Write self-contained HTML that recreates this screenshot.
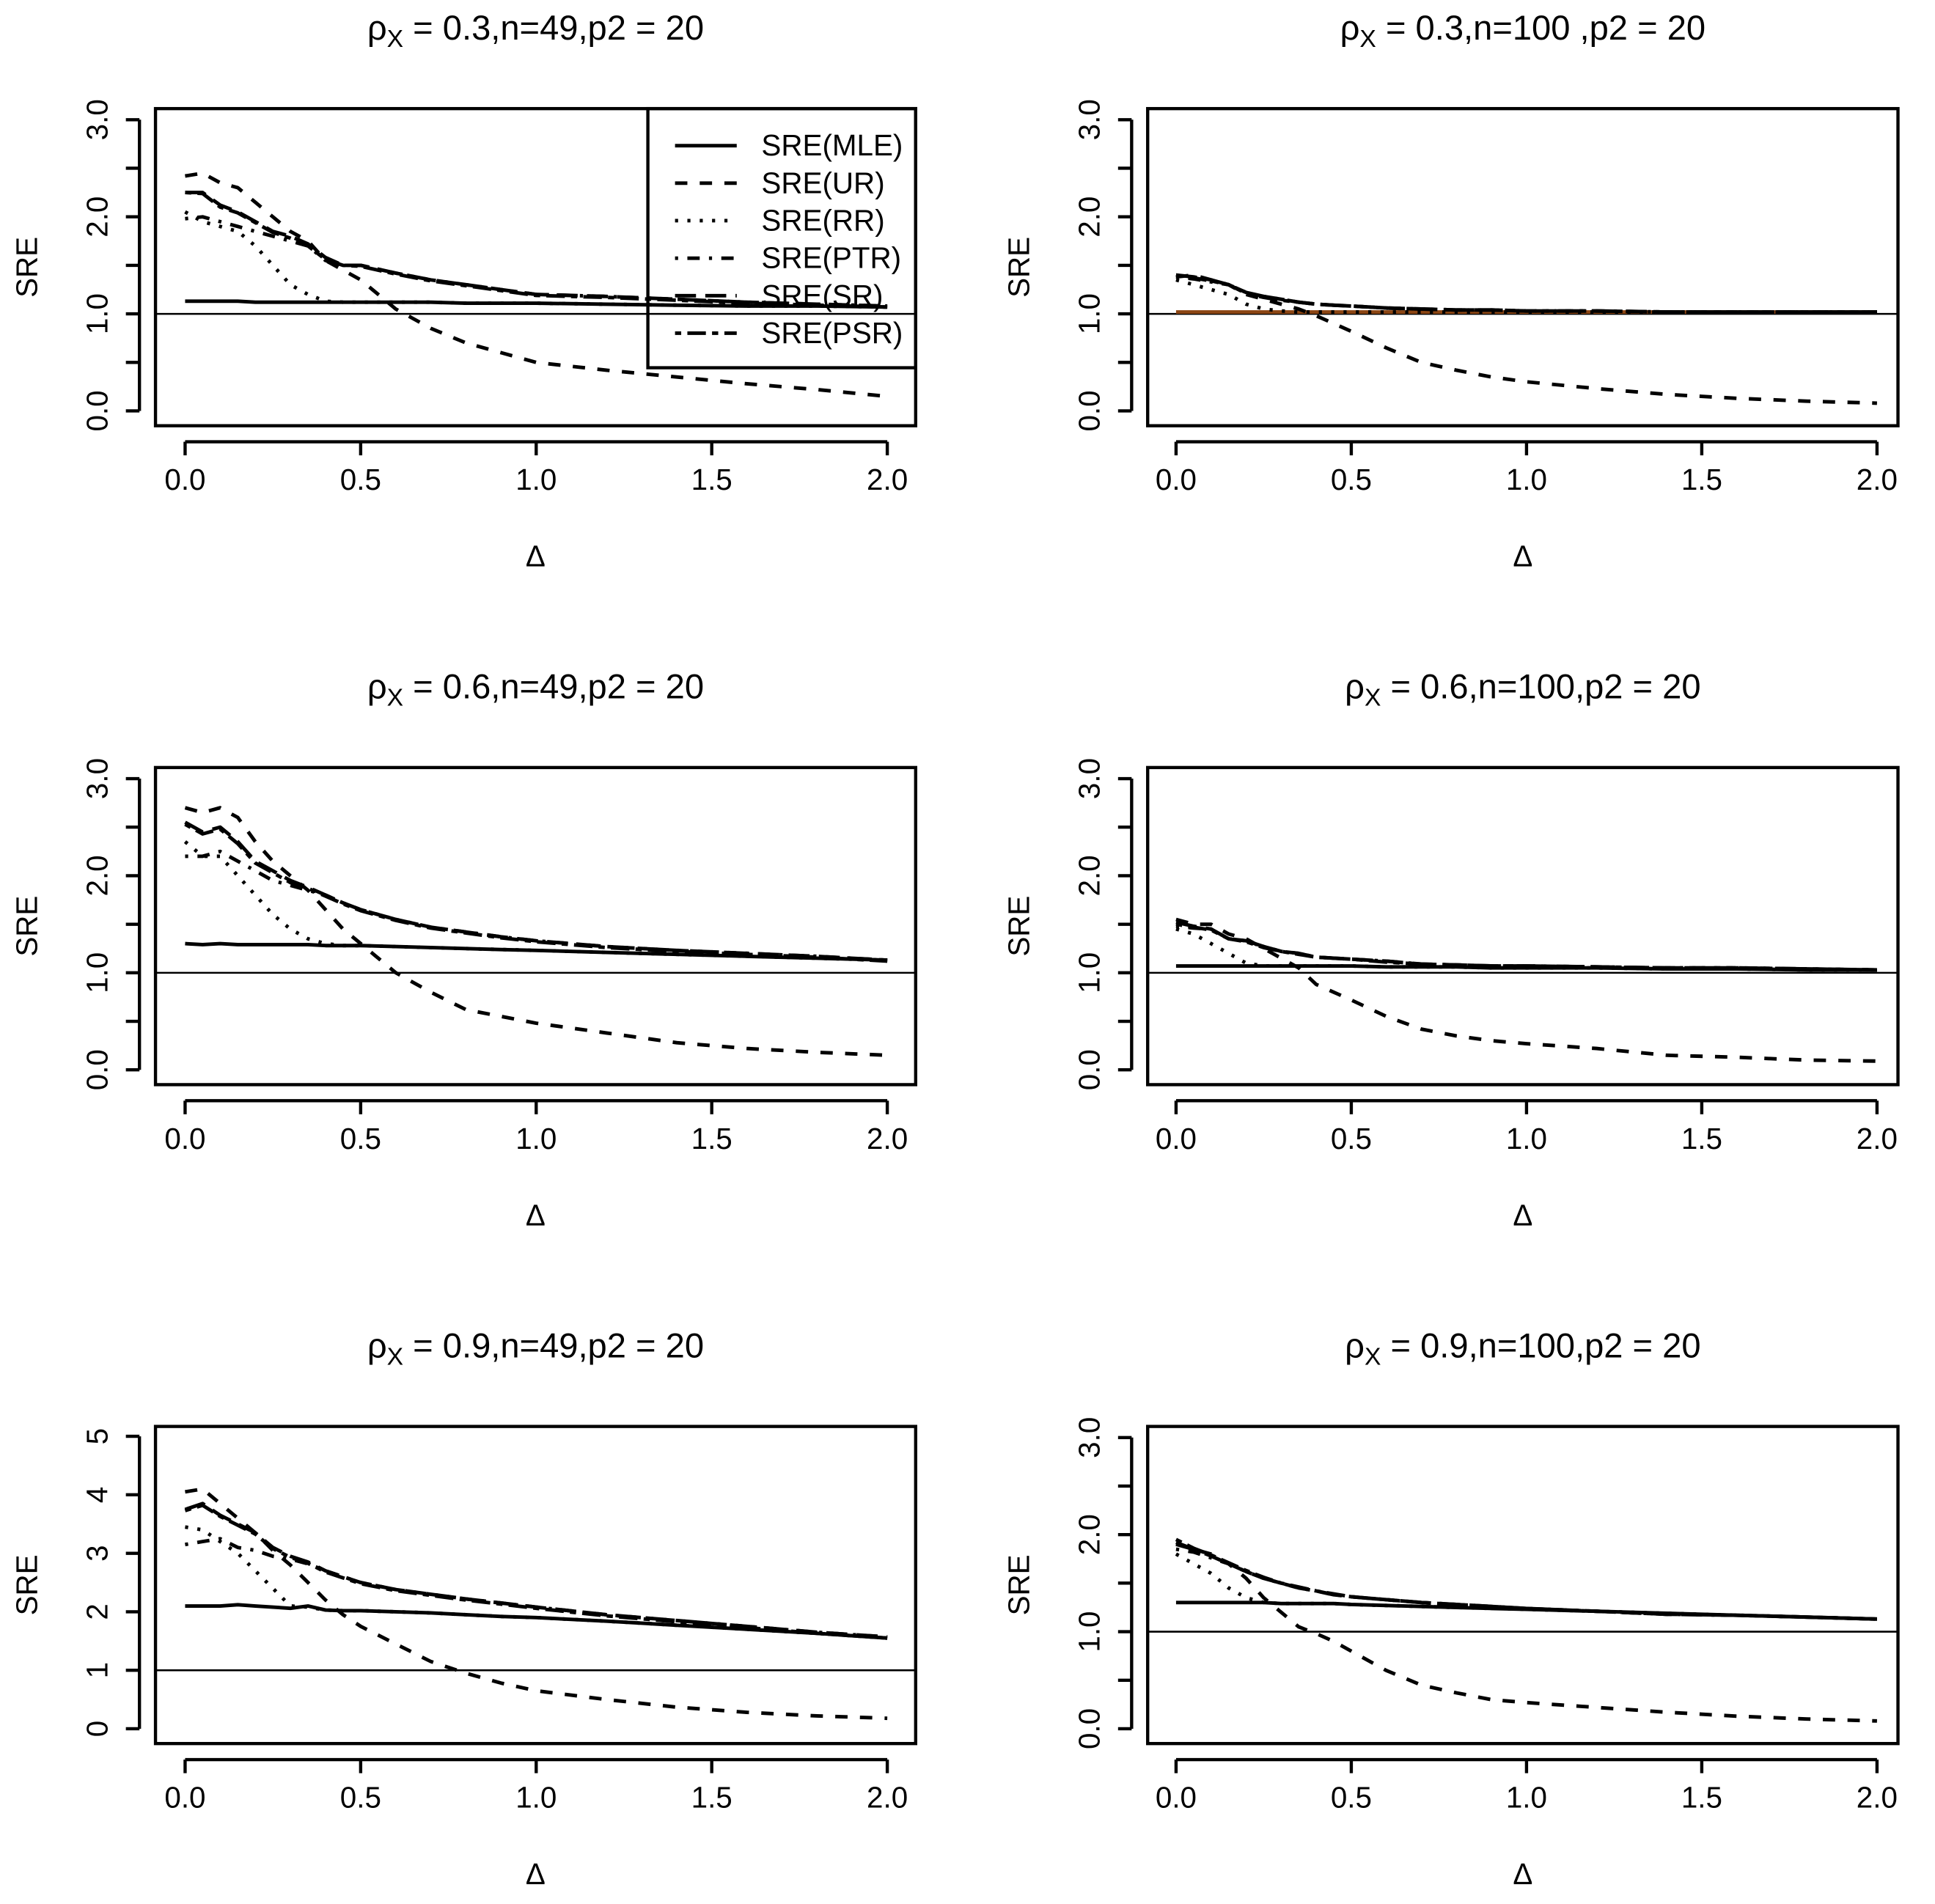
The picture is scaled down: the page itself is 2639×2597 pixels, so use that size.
<!DOCTYPE html>
<html><head><meta charset="utf-8"><style>
html,body{margin:0;padding:0;background:#fff;}
svg{display:block;}
text{font-family:"Liberation Sans",sans-serif;fill:#000;}
</style></head><body>
<svg id="fig" width="2639" height="2597" viewBox="0 0 1568 1543" xmlns="http://www.w3.org/2000/svg"></svg>
<script>
const deltas=[0,0.05,0.1,0.15,0.2,0.25,0.3,0.35,0.4,0.45,0.5,0.6,0.7,0.8,0.9,1.0,1.2,1.4,1.6,1.8,2.0];
const xTicks=[0,0.5,1,1.5,2];
const xTickLabels=["0.0","0.5","1.0","1.5","2.0"];
const seriesNames=["SRE(MLE)","SRE(UR)","SRE(RR)","SRE(PTR)","SRE(SR)","SRE(PSR)"];
const titles=[["0.3,n=49,p2"," = 20"],["0.3,n=100 ,p2"," = 20"],["0.6,n=49,p2"," = 20"],["0.6,n=100,p2"," = 20"],["0.9,n=49,p2"," = 20"],["0.9,n=100,p2"," = 20"]];
// panel 1: rho 0.3, n 49
const p1MLE=[1.13,1.13,1.13,1.13,1.12,1.12,1.12,1.12,1.12,1.12,1.12,1.12,1.12,1.11,1.11,1.11,1.1,1.09,1.08,1.08,1.07];
const p1UR=[2.42,2.45,2.35,2.3,2.15,2.0,1.85,1.75,1.55,1.45,1.35,1.05,0.85,0.7,0.6,0.5,0.42,0.35,0.28,0.22,0.15];
const p1RR=[2.05,1.95,1.9,1.85,1.7,1.5,1.3,1.2,1.13,1.12,1.12,1.12,1.12,1.11,1.11,1.11,1.1,1.09,1.08,1.08,1.07];
const p1PTR=[1.98,2.0,1.95,1.9,1.85,1.8,1.75,1.7,1.55,1.5,1.5,1.42,1.35,1.3,1.25,1.2,1.18,1.15,1.12,1.1,1.08];
const p1SR=[2.25,2.25,2.12,2.05,1.95,1.85,1.8,1.72,1.58,1.5,1.5,1.42,1.35,1.3,1.25,1.2,1.18,1.15,1.12,1.1,1.08];
const p1PSR=[2.25,2.24,2.1,2.04,1.94,1.84,1.78,1.7,1.56,1.5,1.49,1.41,1.34,1.29,1.24,1.19,1.17,1.14,1.11,1.09,1.07];
// panel 2: rho 0.3, n 100
const p2MLE=[1.02,1.02,1.02,1.02,1.02,1.02,1.02,1.02,1.02,1.02,1.02,1.02,1.02,1.02,1.02,1.02,1.02,1.02,1.02,1.02,1.02];
const p2UR=[1.38,1.4,1.35,1.3,1.2,1.15,1.1,1.05,0.98,0.9,0.82,0.65,0.5,0.42,0.35,0.3,0.23,0.17,0.13,0.1,0.08];
const p2RR=[1.35,1.3,1.25,1.2,1.1,1.05,1.03,1.02,1.02,1.02,1.02,1.02,1.02,1.02,1.02,1.02,1.02,1.02,1.02,1.02,1.02];
const p2PTR=[1.38,1.36,1.33,1.3,1.22,1.18,1.15,1.12,1.1,1.09,1.08,1.06,1.05,1.04,1.04,1.03,1.03,1.02,1.02,1.02,1.02];
const p2SR=[1.4,1.38,1.35,1.3,1.22,1.18,1.15,1.12,1.1,1.09,1.08,1.06,1.05,1.04,1.04,1.03,1.03,1.02,1.02,1.02,1.02];
const p2PSR=[1.4,1.37,1.34,1.3,1.21,1.17,1.14,1.12,1.1,1.09,1.08,1.06,1.05,1.04,1.04,1.03,1.03,1.02,1.02,1.02,1.02];
// panel 3: rho 0.6, n 49
const p3MLE=[1.3,1.29,1.3,1.29,1.29,1.29,1.29,1.29,1.28,1.28,1.28,1.27,1.26,1.25,1.24,1.23,1.21,1.19,1.17,1.15,1.13];
const p3UR=[2.7,2.65,2.7,2.6,2.35,2.15,2.0,1.85,1.65,1.45,1.3,1.0,0.8,0.62,0.55,0.48,0.38,0.28,0.22,0.18,0.15];
const p3RR=[2.35,2.2,2.2,2.0,1.8,1.6,1.45,1.35,1.3,1.28,1.28,1.27,1.26,1.25,1.24,1.23,1.21,1.19,1.17,1.15,1.13];
const p3PTR=[2.2,2.2,2.25,2.15,2.05,1.95,1.9,1.85,1.8,1.72,1.65,1.55,1.47,1.42,1.37,1.33,1.27,1.23,1.2,1.17,1.13];
const p3SR=[2.55,2.45,2.5,2.35,2.15,2.05,1.95,1.88,1.8,1.72,1.65,1.55,1.47,1.42,1.37,1.33,1.27,1.23,1.2,1.17,1.13];
const p3PSR=[2.53,2.43,2.48,2.33,2.13,2.03,1.93,1.87,1.79,1.71,1.64,1.54,1.46,1.41,1.36,1.32,1.26,1.22,1.19,1.16,1.12];
// panel 4: rho 0.6, n 100
const p4MLE=[1.07,1.07,1.07,1.07,1.07,1.07,1.07,1.07,1.07,1.07,1.07,1.06,1.06,1.06,1.05,1.05,1.05,1.04,1.04,1.03,1.03];
const p4UR=[1.55,1.5,1.5,1.4,1.35,1.25,1.15,1.05,0.88,0.8,0.72,0.55,0.42,0.35,0.3,0.27,0.22,0.15,0.13,0.1,0.09];
const p4RR=[1.45,1.4,1.3,1.2,1.1,1.07,1.07,1.07,1.07,1.07,1.07,1.06,1.06,1.06,1.05,1.05,1.05,1.04,1.04,1.03,1.03];
const p4PTR=[1.48,1.46,1.45,1.35,1.33,1.27,1.22,1.2,1.16,1.15,1.14,1.12,1.09,1.08,1.07,1.07,1.06,1.05,1.05,1.04,1.03];
const p4SR=[1.52,1.48,1.45,1.35,1.33,1.27,1.22,1.2,1.16,1.15,1.14,1.12,1.09,1.08,1.07,1.07,1.06,1.05,1.05,1.04,1.03];
const p4PSR=[1.5,1.47,1.44,1.35,1.32,1.26,1.22,1.19,1.16,1.15,1.14,1.11,1.09,1.08,1.07,1.07,1.06,1.05,1.05,1.04,1.03];
// panel 5: rho 0.9, n 49
const p5MLE=[2.1,2.1,2.1,2.12,2.1,2.08,2.06,2.1,2.03,2.02,2.02,2.0,1.98,1.95,1.92,1.9,1.84,1.77,1.7,1.63,1.55];
const p5UR=[4.05,4.1,3.85,3.6,3.35,3.05,2.8,2.5,2.2,1.95,1.75,1.45,1.15,0.95,0.78,0.65,0.5,0.37,0.28,0.22,0.18];
const p5RR=[3.45,3.4,3.2,3.0,2.7,2.4,2.1,2.08,2.03,2.02,2.02,2.0,1.98,1.95,1.92,1.9,1.84,1.77,1.7,1.63,1.55];
const p5PTR=[3.15,3.2,3.25,3.1,3.05,2.95,2.9,2.82,2.7,2.6,2.5,2.38,2.3,2.22,2.15,2.08,1.95,1.85,1.75,1.65,1.57];
const p5SR=[3.75,3.85,3.65,3.5,3.35,3.1,2.95,2.85,2.7,2.6,2.5,2.38,2.3,2.22,2.15,2.08,1.95,1.85,1.75,1.65,1.57];
const p5PSR=[3.73,3.82,3.63,3.48,3.33,3.08,2.93,2.83,2.68,2.58,2.48,2.36,2.28,2.2,2.13,2.06,1.93,1.83,1.73,1.63,1.55];
// panel 6: rho 0.9, n 100
const p6MLE=[1.3,1.3,1.3,1.3,1.3,1.3,1.29,1.29,1.29,1.29,1.28,1.27,1.26,1.25,1.24,1.23,1.21,1.19,1.17,1.15,1.13];
const p6UR=[1.92,1.85,1.8,1.7,1.55,1.35,1.2,1.05,0.98,0.9,0.8,0.6,0.45,0.37,0.3,0.27,0.22,0.17,0.13,0.1,0.08];
const p6RR=[1.8,1.7,1.6,1.45,1.35,1.3,1.29,1.29,1.29,1.29,1.28,1.27,1.26,1.25,1.24,1.23,1.21,1.19,1.17,1.15,1.13];
const p6PTR=[1.85,1.82,1.76,1.7,1.62,1.55,1.5,1.45,1.42,1.38,1.36,1.33,1.3,1.28,1.26,1.24,1.21,1.18,1.17,1.15,1.13];
const p6SR=[1.9,1.85,1.78,1.7,1.62,1.55,1.5,1.45,1.42,1.38,1.36,1.33,1.3,1.28,1.26,1.24,1.21,1.18,1.17,1.15,1.13];
const p6PSR=[1.95,1.86,1.79,1.71,1.63,1.56,1.5,1.46,1.42,1.39,1.36,1.33,1.3,1.28,1.26,1.24,1.21,1.18,1.17,1.15,1.13];

const panelData=[[p1MLE,p1UR,p1RR,p1PTR,p1SR,p1PSR],[p2MLE,p2UR,p2RR,p2PTR,p2SR,p2PSR],[p3MLE,p3UR,p3RR,p3PTR,p3SR,p3PSR],[p4MLE,p4UR,p4RR,p4PTR,p4SR,p4PSR],[p5MLE,p5UR,p5RR,p5PTR,p5SR,p5PSR],[p6MLE,p6UR,p6RR,p6PTR,p6SR,p6PSR]];
const yTicksStd=[0,0.5,1,1.5,2,2.5,3];
const yLabelsStd=["0.0","","1.0","","2.0","","3.0"];
const yTicks5=[0,1,2,3,4,5];
const yLabels5=["0","1","2","3","4","5"];

const dashes=["","10 10","2.5 7.5","2.5 7.5 10 7.5","17 7.5","5 5 15 5"];
const NS="http://www.w3.org/2000/svg";
const svg=document.getElementById('fig');
function mk(tag,attrs,parent){const e=document.createElementNS(NS,tag);for(const k in attrs)e.setAttribute(k,attrs[k]);(parent||svg).appendChild(e);return e;}

for(let p=0;p<6;p++){
  const col=p%2,row=Math.floor(p/2);
  const bx0=col?930:126,bx1=col?1538:742;
  const by0=88+row*534,by1=345+row*534;
  const px0=col?953:150,px1=col?1521:719;
  const is5=(p===4);
  const yMax=is5?5:3;
  const pyTop=is5?1164:97+row*534, pyBot=is5?1401:333+row*534;
  const sx=v=>px0+(px1-px0)*v/2;
  const sy=v=>pyBot-(pyBot-pyTop)*v/yMax;
  const g=mk('g',{});
  
  
  const cx=(bx0+bx1)/2;
  const t=mk('text',{x:cx,y:32+row*534,'text-anchor':'middle','font-size':28},g);
  
  
  t.innerHTML='ρ<tspan font-size="20" dy="6">X</tspan><tspan dy="-6"> = '+titles[p][0]+titles[p][1]+'</tspan>';
  const box=mk('rect',{x:bx0,y:by0,width:bx1-bx0,height:by1-by0,fill:'none',stroke:'#000','stroke-width':2.6},g);
  
  
  const xa=mk('g',{},g);
  
  
  mk('line',{x1:sx(0),x2:sx(2),y1:by1+13,y2:by1+13,stroke:'#000','stroke-width':2.6},xa);
  xTicks.forEach((v,i)=>{
    mk('line',{x1:sx(v),x2:sx(v),y1:by1+13,y2:by1+24,stroke:'#000','stroke-width':2.6},xa);
    const tl=mk('text',{x:sx(v),y:by1+52,'text-anchor':'middle','font-size':24},xa);
    
    
    tl.textContent=xTickLabels[i];
  });
  const xt=mk('text',{x:cx,y:by1+114,'text-anchor':'middle','font-size':24,'font-family':'Liberation Serif, serif'},g);
  
  
  xt.textContent='Δ';
  const ya=mk('g',{},g);
  
  
  const yT=is5?yTicks5:yTicksStd, yL=is5?yLabels5:yLabelsStd;
  const ax=bx0-13;
  mk('line',{x1:ax,x2:ax,y1:sy(0),y2:sy(yMax),stroke:'#000','stroke-width':2.6},ya);
  yT.forEach((v,i)=>{
    mk('line',{x1:ax,x2:ax-11,y1:sy(v),y2:sy(v),stroke:'#000','stroke-width':2.6},ya);
    if(yL[i]){
      const tl=mk('text',{x:0,y:0,'text-anchor':'middle','font-size':24,transform:'translate('+(ax-26)+','+sy(v)+') rotate(-90)'},ya);
      
      
      tl.textContent=yL[i];
    }
  });
  const yt=mk('text',{x:0,y:0,'text-anchor':'middle','font-size':24,transform:'translate('+(bx0-96)+','+((by0+by1)/2)+') rotate(-90)'},g);
  
  
  yt.textContent='SRE';
  const ref=mk('line',{x1:bx0,x2:bx1,y1:sy(1),y2:sy(1),stroke:'#000','stroke-width':1.5},g);
  
  
  panelData[p].forEach((arr,si)=>{
    const d=arr.map((v,i)=>(i?'L':'M')+sx(deltas[i]).toFixed(1)+','+sy(v).toFixed(1)).join(' ');
    const a={d:d,fill:'none',stroke:(p===1&&si===0)?'#8b4513':'#000','stroke-width':2.9,'stroke-linejoin':'round'};
    if(dashes[si])a['stroke-dasharray']=dashes[si];
    const path=mk('path',a,g);
    
    
  });
  if(p===0){
    const lg=mk('g',{},g);
    
    
    mk('rect',{x:525,y:88,width:217,height:210,fill:'none',stroke:'#000','stroke-width':2.6},lg);
    seriesNames.forEach((n,si)=>{
      const yy=118+si*30.4;
      const a={x1:547,x2:597,y1:yy,y2:yy,stroke:'#000','stroke-width':2.9};
      if(dashes[si])a['stroke-dasharray']=dashes[si];
      const ln=mk('line',a,lg);
      
      
      const tx=mk('text',{x:617,y:yy+8,'font-size':24},lg);
      
      
      tx.textContent=n;
    });
  }
}
</script>
</body></html>
